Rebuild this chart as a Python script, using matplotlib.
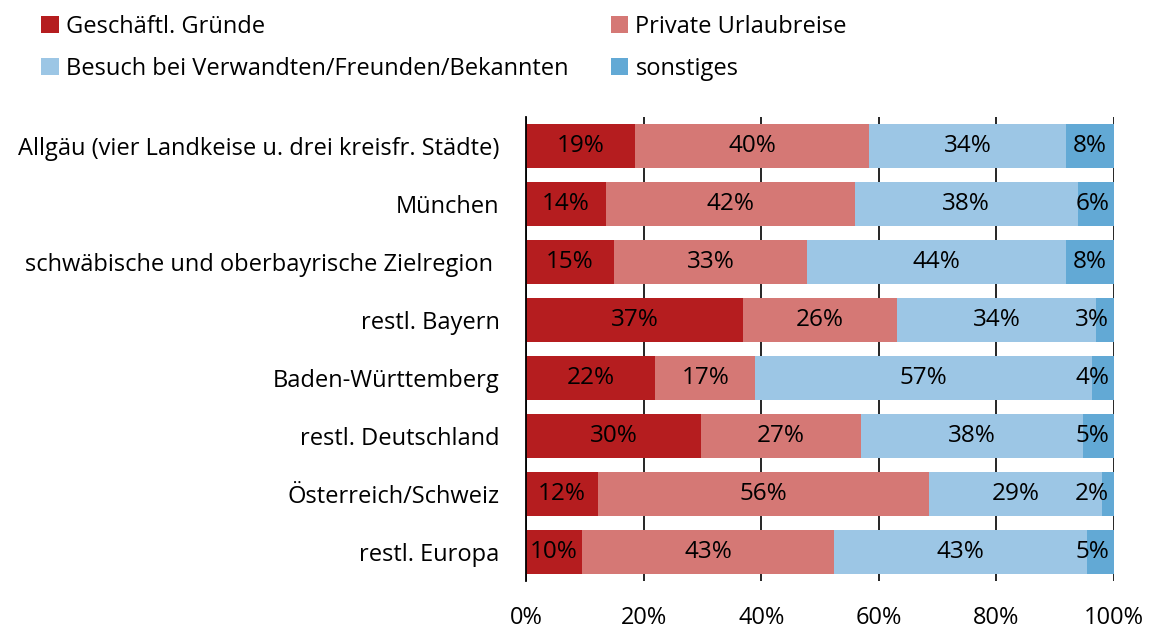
import matplotlib
matplotlib.use('Agg')
import matplotlib.pyplot as plt
from matplotlib import font_manager
from matplotlib.patches import Patch
from matplotlib.ticker import PercentFormatter

names = {f.name for f in font_manager.fontManager.ttflist}
if 'Liberation Sans Narrow' in names:
    plt.rcParams['font.family'] = ['Liberation Sans Narrow', 'DejaVu Sans']
else:
    plt.rcParams['font.family'] = ['Open Sans', 'DejaVu Sans']

regions = ['Allgäu (vier Landkeise u. drei kreisfr. Städte)', 'München',
           'schwäbische und oberbayrische Zielregion ', 'restl. Bayern',
           'Baden-Württemberg', 'restl. Deutschland', 'Österreich/Schweiz',
           'restl. Europa']
series = ['Geschäftl. Gründe', 'Private Urlaubreise',
          'Besuch bei Verwandten/Freunden/Bekannten', 'sonstiges']
geschaeft = [18.6, 13.6, 15.0, 36.9, 22.0, 29.8, 12.3, 9.5]
urlaub = [39.8, 42.3, 32.8, 26.2, 17.0, 27.1, 56.3, 42.9]
besuch = [33.5, 37.9, 44.1, 33.9, 57.2, 37.8, 29.3, 43.0]
sonst = [8.1, 6.2, 8.1, 3.0, 3.8, 5.3, 2.1, 4.6]
colors = ['#B51D1F', '#D57875', '#9CC6E5', '#62A9D5']

fig = plt.figure(figsize=(11.5, 6.28), dpi=100)
ax = fig.add_axes([0.4574, 0.0748, 0.5113, 0.7389])

y = list(range(len(regions)))
left = [0.0] * len(regions)
for vals, col in zip([geschaeft, urlaub, besuch, sonst], colors):
    ax.barh(y, vals, left=left, height=0.75, color=col, zorder=3)
    for i, v in enumerate(vals):
        cx = left[i] + v / 2
        cx = min(cx, 96.3)
        ax.text(cx, i, '%d%%' % round(v), ha='center', va='center',
                fontsize=17.5, color='black', zorder=4)
    left = [l + v for l, v in zip(left, vals)]

ax.set_xlim(0, 100)
ax.set_ylim(len(regions) - 0.5, -0.5)
ax.set_xticks([0, 20, 40, 60, 80, 100])
ax.xaxis.set_major_formatter(PercentFormatter(decimals=0))
ax.set_yticks(y)
ax.set_yticklabels(regions)
ax.tick_params(axis='both', length=0, labelsize=17)
ax.tick_params(axis='x', pad=18)
ax.tick_params(axis='y', pad=19)
ax.grid(axis='x', color='black', linewidth=1.2, zorder=0)
ax.set_axisbelow(True)
for s in ['top', 'right', 'bottom']:
    ax.spines[s].set_visible(False)
ax.spines['left'].set_color('black')
ax.spines['left'].set_linewidth(1.3)
ax.spines['left'].set_zorder(5)

order = [0, 2, 1, 3]
handles = [Patch(facecolor=colors[k], edgecolor='none', label=series[k]) for k in order]
fig.legend(handles=handles, ncol=2, loc='upper left', bbox_to_anchor=(0.017, 1.01),
           frameon=False, fontsize=17, handlelength=0.75, handleheight=0.75,
           handletextpad=0.3, columnspacing=1.8, labelspacing=0.75)

plt.savefig('out.png', dpi=100)
